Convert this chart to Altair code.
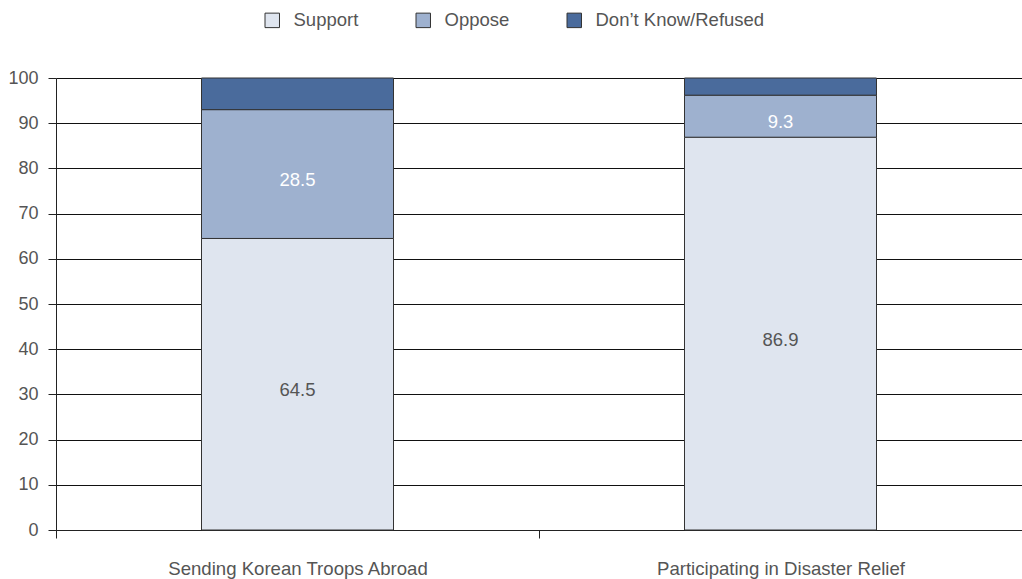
import altair as alt
import pandas as pd

# Survey results (percent of respondents)
categories = ["Sending Korean Troops Abroad", "Participating in Disaster Relief"]
responses = ["Support", "Oppose", "Don’t Know/Refused"]
support = [64.5, 86.9]
oppose = [28.5, 9.3]
dont_know = [7.0, 3.8]

colors = ["#dfe5ef", "#9eb1cf", "#4a6b9c"]
FONT = "Liberation Sans"
TEXT_GRAY = "#555555"

rows = []
for i, cat in enumerate(categories):
    for k, (resp, vals) in enumerate(zip(responses, [support, oppose, dont_know])):
        rows.append({"category": cat, "response": resp, "value": vals[i], "idx": k})
df = pd.DataFrame(rows)

x_enc = alt.X(
    "category:N",
    sort=categories,
    scale=alt.Scale(paddingInner=0, paddingOuter=0),
    axis=alt.Axis(
        title=None,
        labelAngle=0,
        labelLimit=0,
        tickBand="extent",
        tickSize=8,
        tickColor="#222222",
        domainColor="#222222",
        labelFont=FONT,
        labelFontSize=18.6,
        labelColor=TEXT_GRAY,
        labelPadding=21,
        grid=False,
    ),
)

bars = alt.Chart(df).mark_bar(size=192, stroke="#333333", strokeWidth=1).encode(
    x=x_enc,
    y=alt.Y(
        "value:Q",
        stack="zero",
        scale=alt.Scale(domain=[0, 100], nice=False),
        axis=alt.Axis(
            title=None,
            values=list(range(0, 101, 10)),
            tickSize=8,
            tickColor="#222222",
            domainColor="#222222",
            gridColor="#111111",
            gridWidth=1.2,
            labelFont=FONT,
            labelFontSize=18,
            labelColor=TEXT_GRAY,
            labelPadding=10,
        ),
    ),
    color=alt.Color(
        "response:N",
        sort=responses,
        scale=alt.Scale(domain=responses, range=colors),
        legend=alt.Legend(
            title=None,
            orient="none",
            legendX=207,
            legendY=-67,
            direction="horizontal",
            symbolType="square",
            symbolSize=210,
            symbolStrokeColor="#333333",
            symbolStrokeWidth=1,
            symbolOpacity=1,
            labelFont=FONT,
            labelFontSize=18.5,
            labelColor=TEXT_GRAY,
            labelLimit=0,
            labelOffset=12,
            columnPadding=55,
        ),
    ),
    order=alt.Order("idx:Q"),
)

labels = (
    alt.Chart(df)
    .transform_stack(
        stack="value",
        groupby=["category"],
        as_=["y0", "y1"],
        sort=[alt.SortField("idx", order="ascending")],
    )
    .transform_calculate(mid="(datum.y0 + datum.y1) / 2")
    .transform_filter("datum.idx < 2")
    .mark_text(font=FONT, fontSize=18.5, baseline="middle", dy=6)
    .encode(
        x=alt.X("category:N", sort=categories),
        y=alt.Y("mid:Q"),
        text=alt.Text("value:Q", format=".1f"),
        color=alt.condition(
            "datum.response == 'Support'", alt.value(TEXT_GRAY), alt.value("white")
        ),
    )
)

chart = (
    alt.layer(bars, labels)
    .properties(
        width=966,
        height=452,
        autosize=alt.AutoSizeParams(type="none"),
        padding={"left": 56, "top": 78, "right": 0, "bottom": 49},
        background="white",
    )
    .configure_view(stroke=None)
)

chart.save("out.html", embed_options={"renderer": "svg", "actions": False})
